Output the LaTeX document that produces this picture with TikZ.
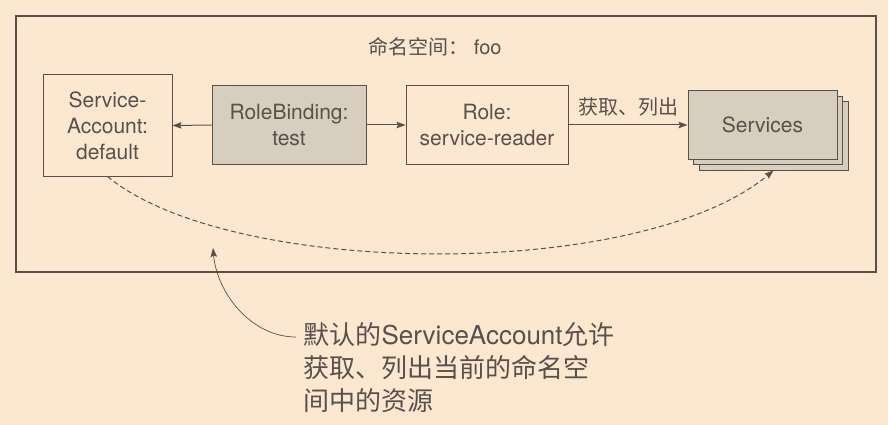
\documentclass[tikz,border=0pt]{standalone}
\usepackage{fontspec}
\setmainfont{TeX Gyre Heros}
\newfontfamily\cjk{Noto Sans CJK SC}
\usepackage{xcolor}
\usetikzlibrary{positioning,calc,arrows.meta}
\definecolor{paper}{RGB}{252,232,209}
\definecolor{ink}{RGB}{88,80,74}
\definecolor{boxgray}{RGB}{216,206,192}
\tikzset{
  obj/.style={draw=ink, line width=1pt, align=center, text=ink, inner sep=0pt,
    font=\fontsize{21}{26}\selectfont},
  tip/.style={-{Stealth[length=9pt,width=6.5pt,inset=1.5pt]}}
}

\begin{document}
\begin{tikzpicture}[x=1pt, y=-1pt]
    \fill[paper] (0,0) rectangle (888,425);
    \useasboundingbox (0,0) rectangle (888,425);

    % Namespace
    \draw[ink, line width=1.1pt] (16,16) rectangle (876,272);
    \node[text=ink, font=\fontsize{20}{24}\selectfont] (nslabel) at (435,47) {{\cjk 命名空间：} foo};

    % Objects
    \node[obj, minimum width=129pt, minimum height=101pt] (sa) at (107.5,125.5) {Service-\\Account:\\default};
    \node[obj, fill=boxgray, minimum width=154pt, minimum height=78pt] (rb) at (289,125) {RoleBinding:\\test};
    \node[obj, minimum width=162pt, minimum height=78pt] (role) at (487,125) {Role:\\service-reader};
    \node[obj, fill=boxgray, minimum width=149pt, minimum height=68pt] (svcC) at (773.5,136) {};
    \node[obj, fill=boxgray, minimum width=149pt, minimum height=68pt] (svcB) at (768,130.5) {};
    \node[obj, fill=boxgray, minimum width=149pt, minimum height=68pt] (svc) at (762.5,125) {Services};

    % Links
    \draw[tip, ink, line width=1pt] (rb.west) -- (sa.east);
    \draw[tip, ink, line width=1pt] (rb.east) -- (role.west);
    \draw[tip, ink, line width=1pt] (role.east) -- node[above=5pt, text=ink, font=\fontsize{20}{24}\cjk] (verbs) {获取、列出} (svc.west);
    \draw[tip, ink, line width=1pt, dash pattern=on 5pt off 3pt] (sa.south) .. controls (230,278) and (640,282) .. (svcC.south);

    % Note
    \node[anchor=north west, align=left, text=ink, font=\fontsize{26}{33}\selectfont] (note) at (300,319)
        {{\cjk 默认的}ServiceAccount{\cjk 允许}\\{\cjk 获取、列出当前的命名空}\\{\cjk 间中的资源}};
    \coordinate (hint) at (213,248);
    \draw[tip, ink, line width=0.7pt] ([shift={(-4pt,-18pt)}]note.north west) .. controls +(-45,0) and +(4,45) .. (hint);
\end{tikzpicture}
\end{document}
